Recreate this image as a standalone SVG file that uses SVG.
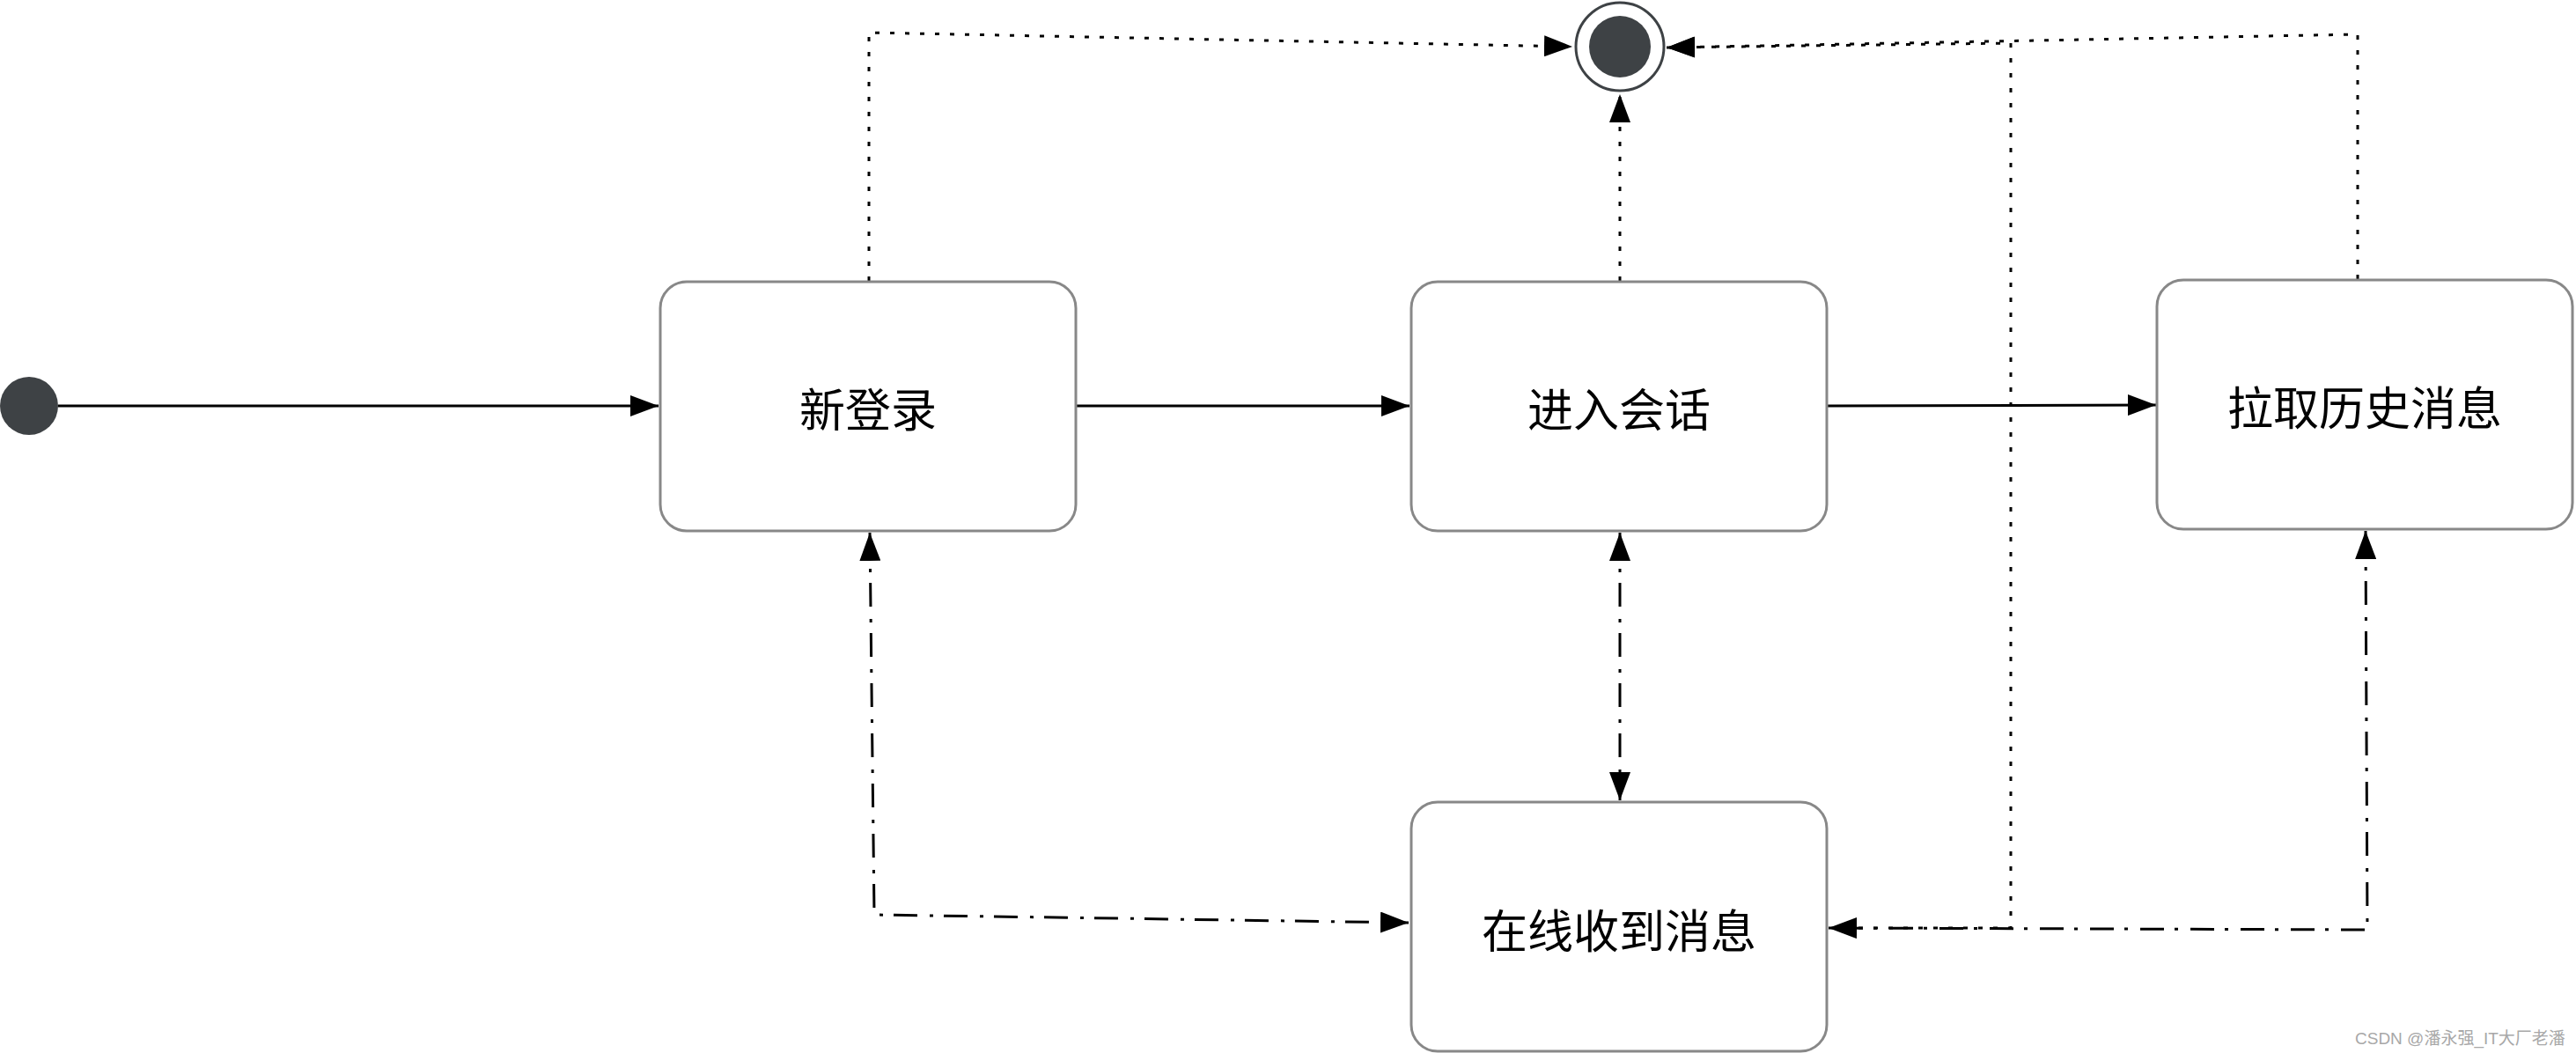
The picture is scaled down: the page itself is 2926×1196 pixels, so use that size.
<svg xmlns="http://www.w3.org/2000/svg" width="2926" height="1196" viewBox="0 0 2926 1196">
<style>
.box{fill:#ffffff;stroke:#888888;stroke-width:3}
.lbl{font-family:"Noto Sans CJK SC","Noto Sans",sans-serif;font-size:52px;fill:#000000;text-anchor:middle;dominant-baseline:central}
.solid{fill:none;stroke:#000000;stroke-width:3}
.dot{fill:none;stroke:#000000;stroke-width:3;stroke-dasharray:5 12}
.dashdot{fill:none;stroke:#000000;stroke-width:3;stroke-dasharray:27 14 4 12}
.wm{font-family:"Liberation Sans","Noto Sans CJK SC",sans-serif;font-size:19px;fill:#a8a8a8}
</style>
<defs>
<marker id="arr" markerUnits="userSpaceOnUse" markerWidth="32" markerHeight="24" refX="32" refY="12" orient="auto-start-reverse" viewBox="0 0 32 24">
<path d="M0,0 L32,12 L0,24 Z" fill="#000000"/>
</marker>
</defs>
<rect width="2926" height="1196" fill="#ffffff"/>
<g id="connectors">
<path class="solid" d="M66,461 L748,461" marker-end="url(#arr)"/>
<path class="solid" d="M1223,461 L1601,461" marker-end="url(#arr)"/>
<path class="solid" d="M2076,461 L2449,460" marker-end="url(#arr)"/>
<path class="dot" d="M987,319 L987,37 L1786,53" marker-end="url(#arr)"/>
<path class="dot" d="M1840,319 L1840,107" marker-end="url(#arr)"/>
<path class="dot" d="M2678,317 L2678,39 L1893,54" marker-end="url(#arr)"/>
<path class="dot" d="M2077,1054 L2284,1054 L2284,49 L1893,54" marker-end="url(#arr)"/>
<path class="dashdot" d="M1840,605 L1840,909" marker-start="url(#arr)" marker-end="url(#arr)"/>
<path class="dashdot" d="M988,605 L993,1039 L1600,1048" marker-start="url(#arr)" marker-end="url(#arr)"/>
<path class="dashdot" d="M2687,603 L2689,1056 L2077,1054" marker-start="url(#arr)" marker-end="url(#arr)"/>
</g>
<g id="start">
<circle cx="33" cy="461" r="33" fill="#3e4245"/>
</g>
<g id="end">
<circle cx="1840" cy="53" r="50" fill="#ffffff" stroke="#3e4245" stroke-width="3"/>
<circle cx="1840" cy="53" r="35" fill="#3e4245"/>
</g>
<g id="node-login">
<rect class="box" x="750" y="320" width="472" height="283" rx="30" ry="30"/>
<text class="lbl" x="986" y="462">新登录</text>
</g>
<g id="node-session">
<rect class="box" x="1603" y="320" width="472" height="283" rx="30" ry="30"/>
<text class="lbl" x="1839" y="462">进入会话</text>
</g>
<g id="node-history">
<rect class="box" x="2450" y="318" width="472" height="283" rx="30" ry="30"/>
<text class="lbl" x="2686" y="460">拉取历史消息</text>
</g>
<g id="node-online">
<rect class="box" x="1603" y="911" width="472" height="283" rx="30" ry="30"/>
<text class="lbl" x="1839" y="1054">在线收到消息</text>
</g>
<text class="wm" x="2675" y="1186">CSDN @潘永强_IT大厂老潘</text>
</svg>
